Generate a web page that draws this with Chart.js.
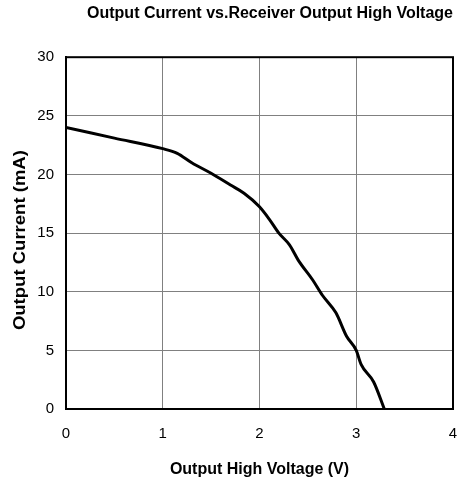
<!DOCTYPE html>
<html>
<head>
<meta charset="utf-8">
<script src="https://cdn.jsdelivr.net/npm/chart.js@4"></script>
<style>
  html, body { margin: 0; padding: 0; background: #fff; }
  #wrap { width: 459px; height: 483px; }
</style>
</head>
<body>
<div id="wrap"><canvas id="c" width="459" height="483"></canvas></div>
<script>
const voltage = [0, 0.5, 1.0, 1.15, 1.3, 1.5, 1.7, 1.84, 2.0, 2.1, 2.2, 2.31, 2.4, 2.55, 2.65, 2.79, 2.9, 3.0, 3.05, 3.18, 3.29];
const current = [24, 23.1, 22.2, 21.8, 21.0, 20.1, 19.1, 18.4, 17.25, 16.2, 15, 14, 12.7, 11, 9.7, 8.2, 6.2, 5, 3.8, 2.3, 0];
const xTicks = [0, 1, 2, 3, 4];
const yTicks = [0, 5, 10, 15, 20, 25, 30];
const titleText = 'Output Current vs.Receiver Output High Voltage';
const xTitle = 'Output High Voltage (V)';
const yTitle = 'Output Current (mA)';

const points = voltage.map((v, i) => ({ x: v, y: current[i] }));
const FONT = 'Liberation Sans, Arial, sans-serif';

new Chart(document.getElementById('c'), {
  type: 'scatter',
  data: {
    datasets: [{
      data: points,
      showLine: true,
      borderColor: '#000',
      borderWidth: 3,
      pointRadius: 0,
      cubicInterpolationMode: 'monotone'
    }]
  },
  options: {
    responsive: false,
    animation: false,
    layout: { padding: { left: 8, right: 6, top: 4, bottom: 0 } },
    plugins: {
      legend: { display: false },
      tooltip: { enabled: false },
      title: {
        display: true,
        text: titleText,
        align: 'end',
        color: '#000',
        font: { family: FONT, size: 16, weight: 'bold' },
        padding: { top: 0, bottom: 34 }
      }
    },
    scales: {
      x: {
        type: 'linear',
        min: 0, max: 4,
        afterBuildTicks: (s) => { s.ticks = xTicks.map(v => ({ value: v })); },
        afterFit: (s) => { s.height = 483 - 409; s.paddingRight = 4; s.paddingLeft = 0; },
        ticks: { color: '#000', font: { family: FONT, size: 15 }, padding: 6 },
        grid: { color: '#808080', lineWidth: 1, drawTicks: true, tickLength: 10, tickColor: 'rgba(0,0,0,0)' },
        border: { color: '#000', width: 2 },
        title: { display: true, text: xTitle, color: '#000', font: { family: FONT, size: 16, weight: 'bold' }, padding: { top: 0, bottom: 4 } }
      },
      y: {
        type: 'linear',
        min: 0, max: 30,
        afterBuildTicks: (s) => { s.ticks = yTicks.map(v => ({ value: v })); },
        afterFit: (s) => { s.width = 66 - 8; },
        ticks: { color: '#000', font: { family: FONT, size: 15 }, padding: 12 },
        grid: { color: '#808080', lineWidth: 1, drawTicks: false },
        border: { color: '#000', width: 2 },
        title: { display: false }
      }
    }
  },
  plugins: [{
    id: 'frameAndYTitle',
    afterDraw(chart) {
      const { ctx, chartArea: a } = chart;
      ctx.save();
      ctx.strokeStyle = '#000';
      ctx.lineWidth = 2;
      ctx.strokeRect(a.left, a.top, a.right - a.left, a.bottom - a.top);
      ctx.restore();

      ctx.save();
      ctx.font = 'bold 16px ' + FONT;
      ctx.fillStyle = '#000';
      ctx.textAlign = 'center';
      ctx.textBaseline = 'middle';
      const w = ctx.measureText(yTitle).width;
      const targetLen = 180;
      ctx.translate(21, (a.top + a.bottom) / 2 + 7);
      ctx.rotate(-Math.PI / 2);
      ctx.scale(targetLen / w, 1);
      ctx.fillText(yTitle, 0, 0);
      ctx.restore();
    }
  }]
});
</script>
</body>
</html>
